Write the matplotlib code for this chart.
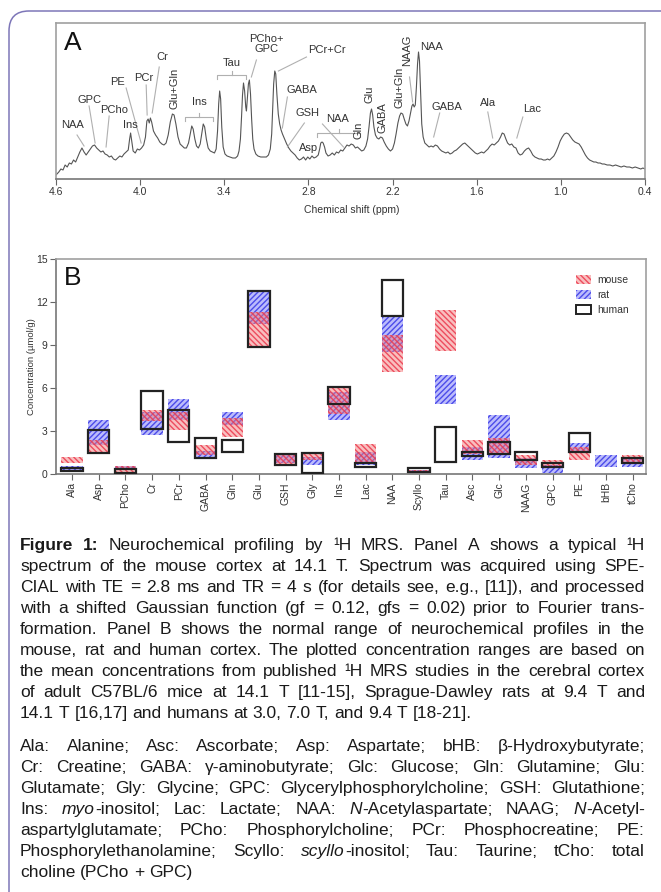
import matplotlib
matplotlib.use('Agg')
import matplotlib.pyplot as plt
from matplotlib.patches import Patch, PathPatch
from matplotlib.path import Path
import numpy as np

plt.rcParams['font.family'] = ['Liberation Sans', 'DejaVu Sans']
plt.rcParams['hatch.linewidth'] = 1.0

# ---------------- Panel A: spectrum trace (ppm, intensity)
spectrum_ppm = [4.600, 4.580, 4.565, 4.550, 4.535, 4.520, 4.505, 4.490, 4.475, 4.460, 4.445, 4.430, 4.415, 4.400,
                4.385, 4.370, 4.355, 4.340, 4.325, 4.310, 4.295, 4.280, 4.265, 4.250, 4.235, 4.220, 4.205, 4.190,
                4.175, 4.160, 4.145, 4.130, 4.115, 4.100, 4.085, 4.075, 4.068, 4.060, 4.050, 4.035, 4.020, 4.005,
                3.990, 3.975, 3.962, 3.952, 3.943, 3.935, 3.927, 3.918, 3.905, 3.890, 3.875, 3.860, 3.845, 3.830,
                3.815, 3.800, 3.785, 3.770, 3.758, 3.745, 3.730, 3.715, 3.700, 3.685, 3.670, 3.655, 3.643, 3.632,
                3.622, 3.610, 3.598, 3.585, 3.572, 3.560, 3.550, 3.540, 3.528, 3.515, 3.500, 3.485, 3.470, 3.458,
                3.448, 3.440, 3.433, 3.426, 3.418, 3.408, 3.395, 3.380, 3.360, 3.340, 3.320, 3.305, 3.295, 3.285,
                3.277, 3.270, 3.263, 3.255, 3.247, 3.242, 3.236, 3.228, 3.221, 3.213, 3.205, 3.197, 3.188, 3.175,
                3.160, 3.140, 3.120, 3.100, 3.085, 3.072, 3.062, 3.055, 3.048, 3.040, 3.033, 3.025, 3.015, 3.005,
                2.995, 2.985, 2.970, 2.955, 2.940, 2.925, 2.910, 2.895, 2.880, 2.865, 2.850, 2.835, 2.820, 2.805,
                2.790, 2.775, 2.760, 2.745, 2.730, 2.720, 2.712, 2.703, 2.695, 2.685, 2.675, 2.660, 2.645, 2.630,
                2.615, 2.600, 2.585, 2.570, 2.555, 2.540, 2.525, 2.510, 2.495, 2.480, 2.465, 2.450, 2.435, 2.420,
                2.405, 2.390, 2.378, 2.368, 2.358, 2.350, 2.342, 2.333, 2.322, 2.310, 2.298, 2.285, 2.272, 2.260,
                2.245, 2.230, 2.215, 2.200, 2.187, 2.175, 2.162, 2.150, 2.140, 2.128, 2.117, 2.105, 2.094, 2.083,
                2.072, 2.062, 2.054, 2.046, 2.038, 2.030, 2.022, 2.015, 2.008, 2.000, 1.992, 1.982, 1.970, 1.955,
                1.940, 1.925, 1.910, 1.895, 1.880, 1.865, 1.850, 1.835, 1.820, 1.805, 1.790, 1.775, 1.760, 1.745,
                1.730, 1.715, 1.700, 1.685, 1.670, 1.655, 1.640, 1.625, 1.610, 1.595, 1.580, 1.565, 1.550, 1.535,
                1.520, 1.505, 1.490, 1.475, 1.460, 1.445, 1.430, 1.418, 1.405, 1.392, 1.380, 1.365, 1.350, 1.335,
                1.320, 1.305, 1.290, 1.275, 1.260, 1.245, 1.230, 1.215, 1.200, 1.185, 1.170, 1.155, 1.140, 1.125,
                1.110, 1.095, 1.080, 1.065, 1.050, 1.035, 1.020, 1.005, 0.990, 0.975, 0.960, 0.945, 0.930, 0.915,
                0.900, 0.885, 0.870, 0.855, 0.840, 0.825, 0.810, 0.795, 0.780, 0.765, 0.750, 0.735, 0.720, 0.705,
                0.690, 0.670, 0.650, 0.630, 0.610, 0.590, 0.570, 0.550, 0.530, 0.510, 0.490, 0.470, 0.450, 0.430,
                0.415, 0.400]
spectrum_intensity = [4, 7, 10, 9, 14, 12, 16, 15, 19, 17, 22, 27, 31, 27,
                      24, 27, 30, 33, 34, 31, 29, 27, 28, 25, 24, 22, 23, 20,
                      19, 21, 23, 22, 25, 27, 29, 40, 46, 38, 28, 26, 30, 29,
                      31, 34, 42, 58, 60, 56, 61, 57, 48, 44, 41, 37, 35, 34,
                      36, 44, 57, 65, 64, 55, 42, 35, 33, 31, 31, 36, 45, 53,
                      50, 40, 33, 31, 35, 46, 55, 52, 40, 31, 28, 27, 26, 30,
                      48, 75, 88, 80, 52, 32, 25, 23, 22, 21, 21, 23, 28, 40,
                      62, 84, 96, 88, 72, 68, 80, 95, 99, 85, 60, 40, 30, 25,
                      23, 22, 22, 22, 24, 30, 45, 70, 95, 108, 105, 85, 65, 55,
                      49, 45, 40, 35, 31, 28, 26, 24, 21, 19, 20, 22, 19, 22,
                      20, 23, 21, 22, 24, 30, 36, 37, 36, 32, 26, 23, 24, 26,
                      24, 27, 26, 29, 28, 31, 34, 33, 35, 34, 31, 32, 30, 28,
                      29, 33, 40, 52, 66, 70, 64, 52, 44, 41, 40, 42, 41, 37,
                      33, 30, 28, 30, 36, 45, 56, 63, 66, 65, 60, 55, 53, 58,
                      66, 73, 75, 72, 74, 92, 115, 127, 118, 85, 55, 42, 36, 34,
                      32, 33, 32, 34, 33, 30, 28, 27, 26, 27, 25, 26, 28, 29,
                      31, 33, 35, 36, 34, 32, 30, 28, 26, 25, 26, 27, 26, 28,
                      30, 33, 35, 34, 36, 38, 42, 46, 45, 40, 36, 34, 35, 32,
                      31, 26, 24, 25, 28, 30, 31, 28, 24, 22, 21, 20, 20, 19,
                      19, 20, 19, 21, 23, 27, 32, 38, 42, 45, 46, 45, 42, 39,
                      37, 36, 35, 32, 28, 24, 21, 19, 18, 17, 17, 16, 16, 15,
                      15, 14, 14, 13, 14, 13, 12, 13, 12, 12, 11, 12, 11, 10,
                      11, 10]
a_ticks = [4.6, 4.0, 3.4, 2.8, 2.2, 1.6, 1.0, 0.4]
a_tick_labels = ['4.6', '4.0', '3.4', '2.8', '2.2', '1.6', '1.0', '0.4']

# ---------------- Panel B: concentration ranges (umol/g)
metabolites = ['Ala', 'Asp', 'PCho', 'Cr', 'PCr', 'GABA', 'Gln', 'Glu', 'GSH', 'Gly', 'Ins',
               'Lac', 'NAA', 'Scyllo', 'Tau', 'Asc', 'Glc', 'NAAG', 'GPC', 'PE', 'bHB', 'tCho']
nan = np.nan
mouse_lo = [0.75, 1.55, 0.15, 3.7, 3.05, 1.3, 2.6, 8.9, 0.7, 0.95, 4.2,
            0.75, 7.1, 0.15, 8.6, 1.4, 1.3, 0.6, 0.5, 0.95, nan, 0.75]
mouse_hi = [1.2, 2.4, 0.55, 4.5, 4.35, 2.0, 3.9, 11.3, 1.4, 1.45, 6.1,
            2.1, 9.7, 0.3, 11.45, 2.4, 2.5, 1.3, 1.0, 1.9, nan, 1.35]
rat_lo = [0.2, 2.0, 0.3, 2.7, 3.8, 1.1, 3.4, 10.5, 0.75, 0.6, 3.8,
          0.6, 8.5, 0.1, 4.9, 1.0, 1.1, 0.4, 0.1, 1.55, 0.5, 0.5]
rat_hi = [0.55, 3.8, 0.55, 4.3, 5.2, 1.6, 4.3, 12.8, 1.35, 1.2, 5.7,
          1.55, 11.1, 0.3, 6.9, 1.9, 4.1, 1.1, 0.6, 2.15, 1.3, 1.05]
human_lo = [0.2, 1.5, 0.05, 3.15, 2.2, 1.15, 1.55, 8.85, 0.65, 0.1, 4.9,
            0.5, 11.0, 0.15, 0.85, 1.25, 1.4, 1.0, 0.5, 1.55, nan, 0.8]
human_hi = [0.4, 3.1, 0.35, 5.8, 4.5, 2.5, 2.35, 12.8, 1.4, 1.45, 6.05,
            0.75, 13.5, 0.4, 3.3, 1.55, 2.25, 1.55, 0.75, 2.85, nan, 1.15]
species = ['mouse', 'rat', 'human']
b_yticks = [0, 3, 6, 9, 12, 15]

# ---------------- Caption text
para1 = ["*Figure* *1:* Neurochemical profiling by ¹H MRS. Panel A shows a typical ¹H",
         "spectrum of the mouse cortex at 14.1 T. Spectrum was acquired using SPE-",
         "CIAL with TE = 2.8 ms and TR = 4 s (for details see, e.g., [11]), and processed",
         "with a shifted Gaussian function (gf = 0.12, gfs = 0.02) prior to Fourier trans-",
         "formation. Panel B shows the normal range of neurochemical profiles in the",
         "mouse, rat and human cortex. The plotted concentration ranges are based on",
         "the mean concentrations from published ¹H MRS studies in the cerebral cortex",
         "of adult C57BL/6 mice at 14.1 T [11-15], Sprague-Dawley rats at 9.4 T and",
         "14.1 T [16,17] and humans at 3.0, 7.0 T, and 9.4 T [18-21]."]
para2 = ["Ala: Alanine; Asc: Ascorbate; Asp: Aspartate; bHB: β-Hydroxybutyrate;",
         "Cr: Creatine; GABA: γ-aminobutyrate; Glc: Glucose; Gln: Glutamine; Glu:",
         "Glutamate; Gly: Glycine; GPC: Glycerylphosphorylcholine; GSH: Glutathione;",
         "Ins: _myo_-inositol; Lac: Lactate; NAA: _N_-Acetylaspartate; NAAG; _N_-Acetyl-",
         "aspartylglutamate; PCho: Phosphorylcholine; PCr: Phosphocreatine; PE:",
         "Phosphorylethanolamine; Scyllo: _scyllo_-inositol; Tau: Taurine; tCho: total",
         "choline (PCho + GPC)"]

# ================= figure =================
W, H = 661, 892
fig = plt.figure(figsize=(W / 100, H / 100), dpi=100)
fig.patch.set_facecolor('white')


def rect(x0, y0, x1, y1):
    return [x0 / W, 1 - y1 / H, (x1 - x0) / W, (y1 - y0) / H]


def fx(x):
    return x / W


def fy(y):
    return 1 - y / H


# outer rounded frame (top + left)
frame_path = Path([(fx(9), fy(H + 2)), (fx(9), fy(31)), (fx(9), fy(11)), (fx(29), fy(11)), (fx(W + 2), fy(11))],
                  [Path.MOVETO, Path.LINETO, Path.CURVE3, Path.CURVE3, Path.LINETO])
fig.add_artist(PathPatch(frame_path, facecolor='none', edgecolor='#7d76b8', lw=1.1,
                         transform=fig.transFigure))

txt_col = '#333333'

# ---------------- Panel A
axA = fig.add_axes(rect(56, 23, 645, 179))
axA.plot(spectrum_ppm, spectrum_intensity, color='#555555', lw=0.8)
axA.set_xlim(4.6, 0.4)
axA.set_ylim(0, 156)
axA.set_yticks([])
axA.set_xticks(a_ticks)
axA.set_xticklabels(a_tick_labels)
axA.tick_params(axis='x', direction='out', length=4, width=0.8, color='#666666',
                labelsize=7.5, labelcolor=txt_col, pad=2)
for s in axA.spines.values():
    s.set_color('#a0a0a0')
    s.set_linewidth(1.2)
axA.spines['bottom'].set_color('#777777')
axA.set_xlabel('Chemical shift (ppm)', fontsize=7.5, color=txt_col, labelpad=3)
axA.xaxis.set_label_coords((352 - 56) / (645 - 56), -0.165)

lead_col = '#b0b0b0'
lab_fs = 8
# plain labels: (text, ppm, intensity, rotation)
a_labels = [('NAA', 4.479, 54, 0), ('GPC', 4.364, 79, 0), ('PCho', 4.186, 69, 0), ('PE', 4.164, 97, 0),
            ('Ins', 4.071, 54, 0), ('PCr', 3.971, 101, 0), ('Cr', 3.843, 122, 0),
            ('Ins', 3.579, 77, 0), ('Tau', 3.35, 116, 0), ('PCho+\nGPC', 3.10, 135, 0),
            ('PCr+Cr', 2.671, 129, 0), ('GABA', 2.85, 89, 0), ('GSH', 2.807, 66, 0), ('Asp', 2.80, 31, 0),
            ('NAA', 2.593, 60, 0), ('NAA', 1.921, 132, 0), ('GABA', 1.814, 72, 0),
            ('Ala', 1.521, 76, 0), ('Lac', 1.207, 70, 0)]
for t, p, i, r in a_labels:
    axA.text(p, i, t, fontsize=lab_fs, color=txt_col, ha='center', va='center', rotation=r,
             linespacing=1.1)
# rotated labels (text, ppm, intensity center)
a_rot = [('Glu+Gln', 3.757, 91), ('Gln', 2.443, 49), ('Glu', 2.364, 85), ('GABA', 2.271, 61),
         ('Glu+Gln', 2.15, 92), ('NAAG', 2.093, 129)]
for t, p, i in a_rot:
    axA.text(p, i, t, fontsize=lab_fs, color=txt_col, ha='center', va='center', rotation=90)
# leader lines
a_leaders = [((4.45, 44), (4.40, 33)), ((4.364, 73), (4.321, 36)), ((4.221, 63), (4.243, 32)),
             ((4.10, 91), (3.993, 36)), ((3.957, 94), (3.95, 64)), ((3.864, 112), (3.914, 66)),
             ((3.171, 119), (3.207, 102)), ((2.814, 122), (3.014, 108)), ((2.95, 82), (2.986, 51)),
             ((2.829, 56), (2.95, 32)), ((2.079, 102), (2.057, 77)), ((1.864, 66), (1.907, 42)),
             ((1.521, 67), (1.486, 41)), ((1.271, 62), (1.314, 41)), ((2.70, 55), (2.55, 32))]
for (p0, i0), (p1, i1) in a_leaders:
    axA.plot([p0, p1], [i0, i1], color=lead_col, lw=0.8)
# brackets (left ppm, right ppm, intensity)
a_brackets = [(3.679, 3.479, 62), (3.45, 3.243, 104), (2.736, 2.43, 46)]
for p0, p1, i in a_brackets:
    axA.plot([p0, p0, p1, p1], [i - 4, i, i, i - 4], color=lead_col, lw=0.8)
    pm = (p0 + p1) / 2
    axA.plot([pm, pm], [i, i + 4], color=lead_col, lw=0.8)

fig.text(fx(64), fy(50), 'A', fontsize=19, color='#111111', va='baseline')

# ---------------- Panel B
axB = fig.add_axes(rect(56, 259, 646, 474))
x = np.arange(len(metabolites))
bw = 0.8
mouse_face = (0.96, 0.50, 0.50, 0.50)
mouse_hatch = (0.92, 0.22, 0.30, 0.85)
rat_face = (0.48, 0.48, 0.98, 0.50)
rat_hatch = (0.22, 0.22, 0.90, 0.85)
rlo, rhi = np.array(rat_lo), np.array(rat_hi)
mlo, mhi = np.array(mouse_lo), np.array(mouse_hi)
hlo, hhi = np.array(human_lo), np.array(human_hi)
axB.bar(x, rhi - rlo, bottom=rlo, width=bw, facecolor=rat_face, edgecolor=rat_hatch,
        hatch='//////', lw=0, zorder=2)
axB.bar(x, mhi - mlo, bottom=mlo, width=bw, facecolor=mouse_face, edgecolor=mouse_hatch,
        hatch='\\\\\\\\\\\\', lw=0, zorder=2.5)
axB.bar(x, hhi - hlo, bottom=hlo, width=bw, facecolor='none', edgecolor='#222222', lw=1.6, zorder=3)
axB.set_xlim(-0.6, len(metabolites) - 0.5)
axB.set_ylim(0, 15)
axB.set_yticks(b_yticks)
axB.set_yticklabels([str(v) for v in b_yticks])
axB.set_xticks(x)
axB.set_xticklabels(metabolites, rotation=90)
axB.tick_params(axis='both', direction='out', length=4, width=0.8, color='#666666',
                labelsize=7.5, labelcolor=txt_col, pad=2)
for s in axB.spines.values():
    s.set_color('#a0a0a0')
    s.set_linewidth(1.2)
axB.spines['left'].set_color('#777777')
axB.spines['bottom'].set_color('#777777')
axB.set_ylabel('Concentration (µmol/g)', fontsize=6.8, color=txt_col)
axB.yaxis.set_label_coords((36 - 56) / 590, 0.5)

handles = [Patch(facecolor=mouse_face, edgecolor=mouse_hatch, hatch='\\\\\\\\\\\\', lw=0, label=species[0]),
           Patch(facecolor=rat_face, edgecolor=rat_hatch, hatch='//////', lw=0, label=species[1]),
           Patch(facecolor='none', edgecolor='#222222', lw=1.4, label=species[2])]
axB.legend(handles=handles, loc='upper left', bbox_to_anchor=((576 - 56) / 590, (474 - 275) / 215),
           frameon=False, fontsize=7.5, handlelength=1.45, handleheight=1.0, labelspacing=0.45,
           handletextpad=0.6, borderpad=0, borderaxespad=0, labelcolor=txt_col)

fig.text(fx(64), fy(285), 'B', fontsize=19, color='#111111', va='baseline')

# ---------------- Caption (justified)
cap_fam = ['Liberation Sans', 'DejaVu Sans']
renderer = fig.canvas.get_renderer()


def word_segments(word):
    segs = []
    italic = bold = False
    buf = ''
    for ch in word:
        if ch in '_*':
            if buf:
                segs.append((buf, italic, bold))
                buf = ''
            if ch == '_':
                italic = not italic
            else:
                bold = not bold
        else:
            buf += ch
    if buf:
        segs.append((buf, italic, bold))
    return segs


def measure(s, size, it=False, bd=False):
    t = fig.text(0, 0, s, fontsize=size, family=cap_fam, style='italic' if it else 'normal',
                 weight='bold' if bd else 'normal')
    w = t.get_window_extent(renderer).width
    t.remove()
    return w


X0, X1 = 20, 645
base = 10.0
space_base = measure('a a', base) - measure('aa', base)
need = 0
for ln in para1 + para2:
    tot = 0
    words = ln.split(' ')
    for w in words:
        tot += sum(measure(s, base, it, bd) for s, it, bd in word_segments(w))
    tot += 0.9 * space_base * (len(words) - 1)
    need = max(need, tot)
cap_fs = min(12.5, base * (X1 - X0) / need)
space_px = space_base * cap_fs / base


def draw_line(line, y_base, justify):
    words = line.split(' ')
    built = []
    for w in words:
        items = []
        for s, it, bd in word_segments(w):
            t = fig.text(0, fy(y_base), s, fontsize=cap_fs, family=cap_fam, color='#1a1a1a',
                         style='italic' if it else 'normal', weight='bold' if bd else 'normal',
                         va='baseline', ha='left')
            items.append((t, t.get_window_extent(renderer).width))
        built.append(items)
    widths = [sum(wp for _, wp in items) for items in built]
    if justify and len(words) > 1:
        gap = (X1 - X0 - sum(widths)) / (len(words) - 1)
    else:
        gap = space_px
    xc = X0
    for items in built:
        for t, wp in items:
            t.set_x(fx(xc))
            xc += wp
        xc += gap


lead = 21.0
y = 550
for i, ln in enumerate(para1):
    draw_line(ln, y, i < len(para1) - 1)
    y += lead
y += 12
for i, ln in enumerate(para2):
    draw_line(ln, y, i < len(para2) - 1)
    y += lead

fig.savefig('out.png', dpi=100, facecolor='white')
